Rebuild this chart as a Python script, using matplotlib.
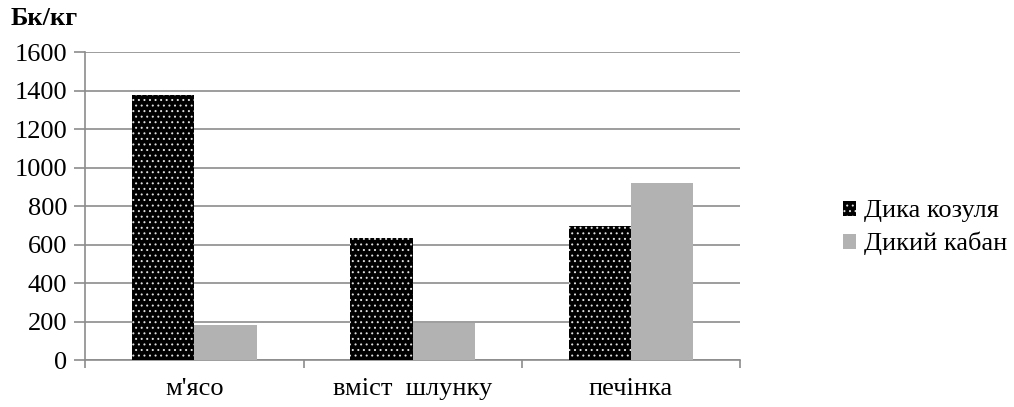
import numpy as np
import matplotlib
matplotlib.use("Agg")
import matplotlib.pyplot as plt
from matplotlib.patches import Patch

plt.rcParams['font.family'] = ['Liberation Serif', 'DejaVu Serif']
plt.rcParams['hatch.linewidth'] = 0.7

categories = ["м'ясо", "вміст  шлунку", "печінка"]
roe_deer = [1375, 635, 695]     # Дика козуля
wild_boar = [185, 195, 920]     # Дикий кабан
series_names = ["Дика козуля", "Дикий кабан"]
y_ticks = [0, 200, 400, 600, 800, 1000, 1200, 1400, 1600]

fig = plt.figure(figsize=(10.14, 4.07), dpi=100)
ax = fig.add_axes([0.084, 0.115, 0.646, 0.757])

ind = np.arange(len(categories))
width = 0.285
grid_col = '#8c8c8c'
fs = 19

ax.bar(ind - width / 2, roe_deer, width, color='black', edgecolor='#e0e0e0',
       hatch='...', linewidth=0, zorder=3)
ax.bar(ind + width / 2, wild_boar, width, color='#b2b2b2', linewidth=0, zorder=3)

ax.set_xlim(-0.5, len(categories) - 0.5)
ax.set_ylim(0, 1600)
ax.set_yticks(y_ticks)
ax.set_yticklabels([str(v) for v in y_ticks], fontsize=fs)
ax.set_xticks(ind)
ax.set_xticklabels(categories, fontsize=fs)
ax.tick_params(axis='x', length=0, pad=13)
ax.set_xticks(np.arange(len(categories) + 1) - 0.5, minor=True)
ax.tick_params(axis='x', which='minor', length=6, color=grid_col, width=1.2)
ax.tick_params(axis='y', length=8, color=grid_col, width=1.2, pad=5)

ax.yaxis.grid(True, color=grid_col, linewidth=1.2, zorder=0)
ax.set_axisbelow(True)
for s in ['top', 'right']:
    ax.spines[s].set_visible(False)
for s in ['left', 'bottom']:
    ax.spines[s].set_color(grid_col)
    ax.spines[s].set_linewidth(1.2)

fig.text(0.01, 0.955, 'Бк/кг', fontsize=fs, fontweight='bold', va='center')

handles = [Patch(facecolor='black', edgecolor='#e0e0e0', hatch='...', linewidth=0),
           Patch(facecolor='#b2b2b2', linewidth=0)]
fig.legend(handles, series_names, loc='center left', bbox_to_anchor=(0.831, 0.44),
           frameon=False, fontsize=fs, handlelength=0.5, handleheight=0.5,
           handletextpad=0.3, labelspacing=0.36, borderpad=0, borderaxespad=0)

fig.savefig('out.png', dpi=100)
